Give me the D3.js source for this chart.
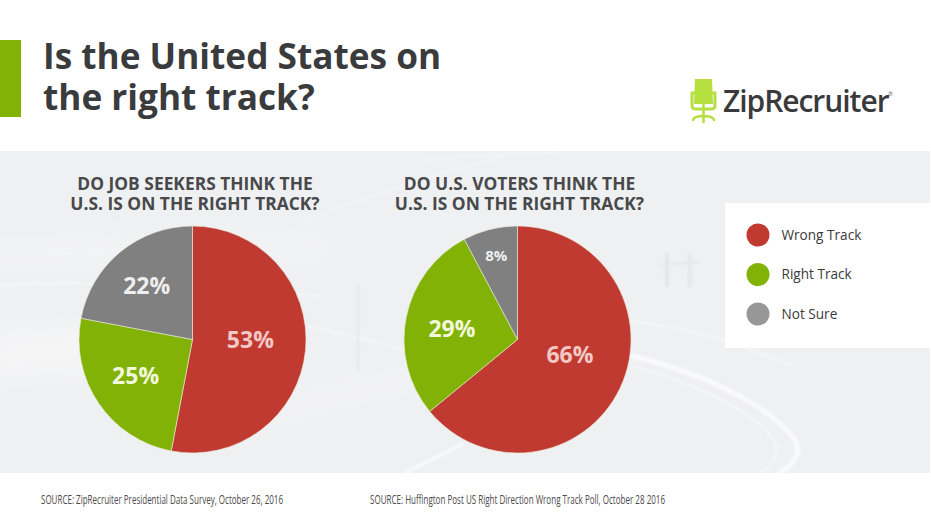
<!DOCTYPE html>
<html><head><meta charset="utf-8">
<script src="https://d3js.org/d3.v7.min.js"></script>
<style>html,body{margin:0;padding:0;background:#fff;overflow:hidden}svg{display:block}text{font-family:"Open Sans",sans-serif}</style>
</head><body><svg id="c" width="931" height="523"></svg>
<script>
const categories = ["Wrong Track","Right Track","Not Sure"];
const seekerValues = [53,25,22];
const voterValues = [66,29,8];
const sliceColors = ["#c13a32","#82b206","#808080"];
const legendColors = ["#c13a32","#82b206","#979797"];
const labelColors = ["#f3c9c6","#f2f8dc","#eeeeee"];
const titleLines = ["Is the United States on","the right track?"];
const seekerHeading = ["DO JOB SEEKERS THINK THE","U.S. IS ON THE RIGHT TRACK?"];
const voterHeading = ["DO U.S. VOTERS THINK THE","U.S. IS ON THE RIGHT TRACK?"];
const sources = ["SOURCE: ZipRecruiter Presidential Data Survey, October 26, 2016","SOURCE: Huffington Post US Right Direction Wrong Track Poll, October 28 2016"];

const svg = d3.select("#c");
const defs = svg.append("defs");
defs.append("filter").attr("id","b1").attr("x","-20%").attr("y","-20%").attr("width","140%").attr("height","140%")
  .append("feGaussianBlur").attr("stdDeviation",1.2);
defs.append("filter").attr("id","b2").attr("x","-50%").attr("y","-50%").attr("width","200%").attr("height","200%")
  .append("feGaussianBlur").attr("stdDeviation",14);
defs.append("clipPath").attr("id","bandClip").append("rect").attr("x",0).attr("y",151).attr("width",930).attr("height",322);

svg.append("rect").attr("width",931).attr("height",523).attr("fill","#fff");
svg.append("rect").attr("x",0).attr("y",40).attr("width",21).attr("height",77).attr("fill","#82b206");
svg.selectAll(".t").data(titleLines).join("text").attr("x",43).attr("y",(d,i)=>69+i*41)
  .attr("font-size",35.2).attr("font-weight",700).attr("fill","#3a3b3d").text(d=>d);

// photo band with faint road
const band = svg.append("g").attr("clip-path","url(#bandClip)");
band.append("rect").attr("x",0).attr("y",151).attr("width",930).attr("height",322).attr("fill","#eff0f2");
const soft = [
 ["M-20 360 C60 345 130 350 220 360",50,"#f5f5f6"],
 ["M-20 255 C100 250 200 255 330 245",24,"#f4f4f5"],
 ["M250 420 C320 400 400 380 460 370",30,"#f3f3f4"]
];
band.append("g").attr("filter","url(#b2)").selectAll("path").data(soft).join("path").attr("d",d=>d[0]).attr("fill","none")
  .attr("stroke-width",d=>d[1]).attr("stroke",d=>d[2]);
const faint = [
 ["M0 285 C100 280 250 290 320 296",1.5,"#f8f8f9"],
 ["M300 325 C340 332 370 340 405 350",1.5,"#f9f9fa"],
 ["M300 222 C370 195 430 175 500 158",1.5,"#f7f7f8"],
 ["M420 160 C450 156 500 155 560 153",1.5,"#f7f7f8"],
 ["M632 322 C680 326 730 340 790 365",1.5,"#f9f9fa"],
 ["M632 356 C700 372 770 405 795 440 C802 452 795 463 780 473",5,"#fafafb"],
 ["M632 366 C690 382 755 410 775 442 C780 455 772 465 760 473",1.5,"#f9f9fa"],
 ["M405 473 C425 462 440 456 462 444",3,"#fbfbfb"],
 ["M358 285 L358 370",2,"#e6e7e9"],
 ["M667 255 L667 285",4,"#e4e5e7"],
 ["M690 255 L690 285",4,"#e6e7e9"],
 ["M660 265 L700 262",3,"#e8e9eb"]
];
band.append("g").attr("filter","url(#b1)").selectAll("path").data(faint).join("path").attr("d",d=>d[0]).attr("fill","none")
  .attr("stroke-width",d=>d[1]).attr("stroke",d=>d[2]).attr("stroke-linecap","round");

const pie = d3.pie().sort(null);
function drawPie(values, cx, cy, r, heading, hx, labelPos, nudges, sizes){
  const g = svg.append("g").attr("transform",`translate(${cx},${cy})`);
  const arc = d3.arc().innerRadius(0).outerRadius(r);
  const arcs = pie(values);
  g.selectAll("path").data(arcs).join("path").attr("d",arc)
    .attr("fill",(d,i)=>sliceColors[i]).attr("stroke","#e8ecd8").attr("stroke-width",0.6);
  g.selectAll("text").data(arcs).join("text")
    .attr("transform",(d,i)=>{const c=d3.arc().innerRadius(r*labelPos[i]).outerRadius(r*labelPos[i]).centroid(d);return `translate(${c[0]+nudges[i][0]},${c[1]+nudges[i][1]})`;})
    .attr("text-anchor","middle").attr("dy","0.36em")
    .attr("font-size",(d,i)=>sizes[i]).attr("font-weight",700)
    .attr("fill",(d,i)=>labelColors[i]).text(d=>d.data+"%");
  svg.selectAll(null).data(heading).join("text").attr("x",hx).attr("y",(d,i)=>190+i*20)
    .attr("text-anchor","middle").attr("font-size",17.4).attr("font-weight",700).attr("fill","#48494b").text(d=>d);
}
drawPie(seekerValues,192.5,339.5,113.5,seekerHeading,195,[0.53,0.67,0.62],[[-2,-5],[6,-7],[-1,0]],[23,23,23]);
drawPie(voterValues,517.5,339.5,113.5,voterHeading,519.5,[0.55,0.67,0.74],[[-4,-11],[9,4],[-1,-2]],[23,23,15]);

// legend
svg.append("rect").attr("x",725).attr("y",203).attr("width",205).attr("height",145).attr("fill","#fff");
const legendY = d3.scalePoint().domain(categories).range([235,314]);
const lg = svg.selectAll(".lg").data(categories).join("g").attr("transform",d=>`translate(758,${legendY(d)})`);
lg.append("circle").attr("r",11.5).attr("fill",(d,i)=>legendColors[i]);
lg.append("text").attr("x",23.5).attr("y",4.5).attr("font-size",13.6).attr("fill","#3a3a3a").text(d=>d);

// logo
const logoGreen = "#b6e03f";
const logo = svg.append("g");
logo.append("path").attr("fill",logoGreen).attr("d","M695 79 L712 79 L713 104 L694 104 Z");
logo.append("path").attr("fill","none").attr("stroke",logoGreen).attr("stroke-width",3).attr("stroke-linecap","round")
  .attr("d","M695 93 L692 93 L692 106 Q692 109 696 109 L711 109 Q715 109 715 106 L715 93 L712 93");
logo.append("path").attr("fill","none").attr("stroke",logoGreen).attr("stroke-width",2.6).attr("stroke-linecap","round")
  .attr("d","M703.5 104 L703.5 122 M693 120 Q694 116 703.5 116 Q713 116 714 120");
svg.append("text").attr("x",723).attr("y",112).attr("font-size",30).attr("font-weight",600).attr("letter-spacing",-1.05)
  .attr("fill","#3a3a3c").text("ZipRecruiter");
svg.append("text").attr("x",888).attr("y",96).attr("font-size",6).attr("fill","#666").text("®");

// sources (condensed)
const srcX=[41,370], srcW=[242,295];
svg.selectAll(".s").data(sources).join("text").attr("x",(d,i)=>srcX[i]).attr("y",504)
  .attr("font-size",12).attr("fill","#4a4a4a").attr("textLength",(d,i)=>srcW[i]).attr("lengthAdjust","spacingAndGlyphs").text(d=>d);
</script></body></html>
